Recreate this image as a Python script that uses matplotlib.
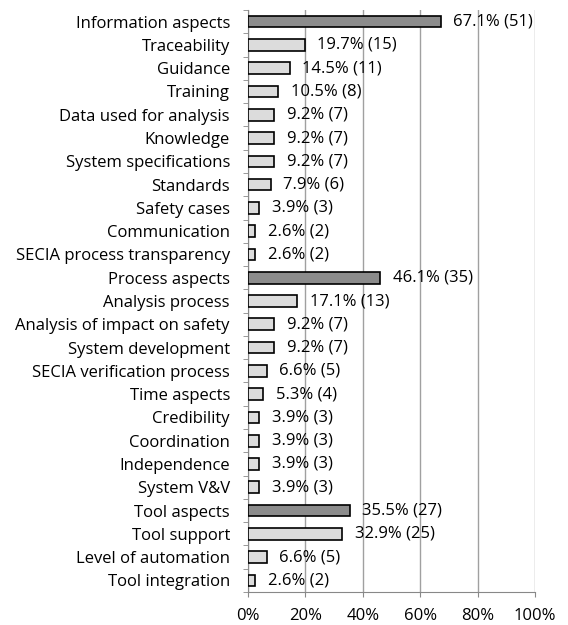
import matplotlib.pyplot as plt
import numpy as np

categorias = ['Information aspects', 'Traceability', 'Guidance', 'Training',
              'Data used for analysis', 'Knowledge', 'System specifications',
              'Standards', 'Safety cases', 'Communication',
              'SECIA process transparency', 'Process aspects', 'Analysis process',
              'Analysis of impact on safety', 'System development',
              'SECIA verification process', 'Time aspects', 'Credibility',
              'Coordination', 'Independence', 'System V&V', 'Tool aspects',
              'Tool support', 'Level of automation', 'Tool integration']
percentuais = [67.1, 19.7, 14.5, 10.5, 9.2, 9.2, 9.2, 7.9, 3.9, 2.6, 2.6,
               46.1, 17.1, 9.2, 9.2, 6.6, 5.3, 3.9, 3.9, 3.9, 3.9,
               35.5, 32.9, 6.6, 2.6]
contagens = [51, 15, 11, 8, 7, 7, 7, 6, 3, 2, 2,
             35, 13, 7, 7, 5, 4, 3, 3, 3, 3,
             27, 25, 5, 2]
grupos = ['Information aspects', 'Process aspects', 'Tool aspects']

plt.rcParams['font.family'] = ['Open Sans', 'DejaVu Sans']

fig = plt.figure(figsize=(5.68, 6.25), dpi=100)
ax = fig.add_axes([248 / 568, 33 / 625, 287 / 568, 582 / 625])

y = np.arange(len(categorias))
cores = ['#8c8c8c' if c in grupos else '#dcdcdc' for c in categorias]
ax.barh(y, percentuais, height=0.5, color=cores, edgecolor='black',
        linewidth=1.2, zorder=3)

# rótulos de valor à direita das barras
for yi, p, n in zip(y, percentuais, contagens):
    ax.annotate(f'{p}% ({n})', (p, yi), xytext=(9, 0),
                textcoords='offset points', va='center', ha='left',
                fontsize=12, zorder=4)

ax.set_xlim(0, 100)
ax.set_ylim(len(categorias) - 0.5, -0.5)
ax.set_xticks(np.arange(0, 101, 20))
ax.set_xticklabels([f'{v}%' for v in range(0, 101, 20)], fontsize=12)
ax.set_yticks(y)
ax.set_yticklabels(categorias, fontsize=12)
ax.set_yticks(np.arange(-0.5, len(categorias), 1), minor=True)

ax.tick_params(axis='y', which='major', length=0, pad=13)
ax.tick_params(axis='y', which='minor', length=3.5, color='#888888')
ax.tick_params(axis='x', length=3.5, color='#888888', pad=8)

ax.grid(axis='x', color='#a0a0a0', linewidth=1, zorder=0)
ax.set_axisbelow(True)
for lado in ['top', 'right']:
    ax.spines[lado].set_visible(False)
for lado in ['left', 'bottom']:
    ax.spines[lado].set_color('#888888')

fig.savefig('out.png', dpi=100)
